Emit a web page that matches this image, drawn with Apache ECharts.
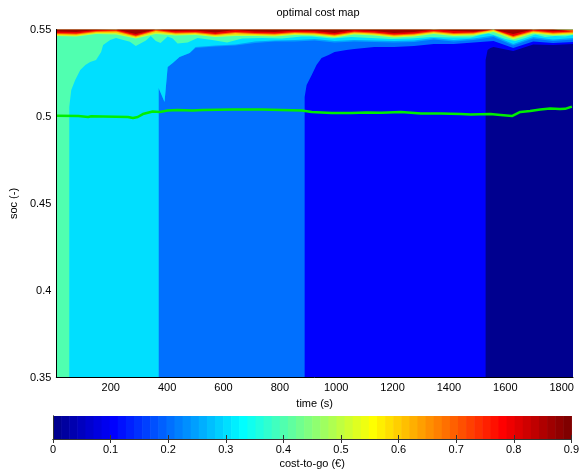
<!DOCTYPE html>
<html><head><meta charset="utf-8">
<script src="https://cdn.jsdelivr.net/npm/echarts@6/dist/echarts.min.js"></script>
<style>html,body{margin:0;padding:0;background:#fff}#c{width:582px;height:470px}</style>
</head><body><div id="c"></div>
<script>
// ---- data (time in s, soc in -) ----
const xTicks = [200,400,600,800,1000,1200,1400,1600,1800];
const cbTicks = [0,0.1,0.2,0.3,0.4,0.5,0.6,0.7,0.8,0.9];
// sample times for the upper (near soc=0.55) contour boundaries
const tTop = [7,78,148,219,289,360,430,501,571,642,712,782,853,923,994,1064,1135,1205,1276,1346,1417,1487,1558,1628,1699,1769,1840];
// contour boundaries: soc above which cost >= level
const b9 = [0.5489,0.5486,0.5497,0.5500,0.5474,0.5500,0.5491,0.5494,0.5483,0.5497,0.5489,0.5486,0.5494,0.5491,0.5480,0.5497,0.5491,0.5480,0.5486,0.5500,0.5491,0.5489,0.5500,0.5474,0.5500,0.5491,0.5497];
const b8 = [0.5480,0.5477,0.5491,0.5494,0.5466,0.5497,0.5483,0.5486,0.5474,0.5486,0.5480,0.5477,0.5486,0.5483,0.5471,0.5489,0.5483,0.5471,0.5477,0.5491,0.5480,0.5483,0.5500,0.5463,0.5494,0.5483,0.5489];
const b7 = [0.5474,0.5471,0.5486,0.5489,0.5460,0.5491,0.5477,0.5480,0.5468,0.5480,0.5474,0.5471,0.5480,0.5477,0.5466,0.5483,0.5477,0.5466,0.5471,0.5486,0.5474,0.5477,0.5497,0.5457,0.5489,0.5477,0.5483];
const b6 = [0.5468,0.5466,0.5480,0.5480,0.5454,0.5483,0.5471,0.5474,0.5463,0.5471,0.5468,0.5466,0.5474,0.5471,0.5460,0.5477,0.5471,0.5460,0.5466,0.5480,0.5468,0.5471,0.5491,0.5451,0.5483,0.5471,0.5477];
const b5 = [0.5463,0.5460,0.5474,0.5471,0.5448,0.5474,0.5466,0.5468,0.5457,0.5463,0.5463,0.5460,0.5468,0.5466,0.5454,0.5471,0.5466,0.5454,0.5460,0.5474,0.5463,0.5466,0.5486,0.5443,0.5477,0.5466,0.5471];
const b4 = [[7,0.35],[53,0.35],[53,0.5055],[60,0.5152],[74,0.5210],[92,0.5267],[110,0.5296],[127,0.5313],[148,0.5325],[166,0.5371],[173,0.5411],[198,0.5440],[219,0.5451],[268,0.5430],[289,0.5405],[325,0.5437],[342,0.5463],[360,0.5434],[377,0.5422],[402,0.5460],[420,0.5448],[437,0.5420],[473,0.5425],[508,0.5451],[560,0.5440],[613,0.5425],[666,0.5448],[737,0.5451],[807,0.5448],[878,0.5460],[913,0.5460],[984,0.5448],[1054,0.5457],[1124,0.5451],[1195,0.5445],[1265,0.5448],[1336,0.5457],[1406,0.5454],[1477,0.5454],[1512,0.5468],[1540,0.5477],[1565,0.5466],[1600,0.5445],[1635,0.5434],[1671,0.5451],[1706,0.5471],[1741,0.5457],[1776,0.5463],[1812,0.5460],[1840,0.5468]];
const b3Lower = [[7,0.35],[370,0.35],[370,0.5164],[377,0.5164],[391,0.5083],[402,0.5284],[420,0.5307],[444,0.5342],[480,0.5365]];
const b3Upper = [0.5399,0.5408,0.5414,0.5431,0.5437,0.5440,0.5445,0.5434,0.5440,0.5437,0.5434,0.5437,0.5451,0.5440,0.5448,0.5466,0.5417,0.5457,0.5443,0.5451];
const b25Upper = [0.5394,0.5402,0.5408,0.5422,0.5431,0.5431,0.5437,0.5425,0.5431,0.5428,0.5425,0.5428,0.5443,0.5431,0.5440,0.5457,0.5408,0.5448,0.5434,0.5443];
const b2Lower = [[7,0.35],[888,0.35],[888,0.5112],[895,0.5181],[913,0.5239],[930,0.5296],[948,0.5336],[973,0.5353],[994,0.5371],[1036,0.5382]];
const b2Upper = [0.5388,0.5399,0.5399,0.5405,0.5417,0.5417,0.5425,0.5434,0.5394,0.5431,0.5422,0.5428];
const b1Lower = [[7,0.35],[1530,0.35],[1530,0.5325],[1537,0.5382],[1547,0.5394]];
const b1Upper = [0.5399,0.5376,0.5414,0.5411,0.5417];
const b0 = [[7,0.35],[1840,0.35]];
// optimal soc trajectory
const trajT = [7,85,120,131,173,261,279,296,314,349,374,402,437,490,525,631,737,807,878,913,984,1054,1107,1160,1230,1301,1371,1442,1477,1547,1583,1625,1653,1688,1724,1759,1794,1812,1836];
const trajSoc = [0.5005,0.5003,0.4997,0.5001,0.5,0.4997,0.4991,0.4997,0.5014,0.5029,0.5026,0.5034,0.5037,0.5034,0.5037,0.504,0.504,0.5037,0.5034,0.5026,0.502,0.502,0.5023,0.5022,0.5026,0.5017,0.5017,0.5014,0.5011,0.5014,0.5009,0.5003,0.5026,0.5032,0.504,0.5046,0.5043,0.5044,0.5057];

// ---- build ----
function withTimes(vals, start) { return vals.map((v, i) => [tTop[i + start], v]); }
function jet64(k) { // MATLAB jet(64), k = 0..63
  const u = j => (j < 1 || j > 47) ? 0 : (j <= 16 ? j / 16 : (j <= 31 ? 1 : (48 - j) / 16));
  const R = k + 1;
  const r = u(R - 24), g = u(R - 8), b = u(R + 8);
  const h = x => Math.round(x * 255).toString(16).padStart(2, '0');
  return '#' + h(r) + h(g) + h(b);
}
const FONT = 'Liberation Sans';
const layers = [
  { d: b0, c: '#00008f' },
  { d: b1Lower.concat(withTimes(b1Upper, 22)), c: '#0000ff' },
  { d: b2Lower.concat(withTimes(b2Upper, 15)), c: '#0070ff' },
  { d: b3Lower.concat(withTimes(b25Upper, 7)), c: '#00a0ff' },
  { d: b3Lower.concat(withTimes(b3Upper, 7)), c: '#00dfff' },
  { d: b4, c: '#50ffb0' },
  { d: withTimes(b5, 0), c: '#bfff40' },
  { d: withTimes(b6, 0), c: '#ffcf00' },
  { d: withTimes(b7, 0), c: '#ff6000' },
  { d: withTimes(b8, 0), c: '#ef0000' },
  { d: withTimes(b9, 0), c: '#a00000' }
];
const series = layers.map(L => ({
  type: 'line', data: L.d, xAxisIndex: 0, yAxisIndex: 0, showSymbol: false, silent: true,
  lineStyle: { width: 0, opacity: 0 }, areaStyle: { color: L.c, opacity: 1, origin: 'end' }, z: 2
}));
series.push({
  type: 'line', data: trajT.map((t, i) => [t, trajSoc[i]]), xAxisIndex: 0, yAxisIndex: 0,
  showSymbol: false, silent: true, lineStyle: { color: '#00ee00', width: 2.5 }, z: 5
});
const nCb = 64, cbMax = cbTicks[cbTicks.length - 1];
series.push({
  type: 'custom', xAxisIndex: 1, yAxisIndex: 1, silent: true, z: 2,
  data: Array.from({ length: nCb }, (_, k) => [k]),
  renderItem: (params, api) => {
    const k = api.value(0);
    const p0 = api.coord([k * cbMax / nCb, 1]);
    const p1 = api.coord([(k + 1) * cbMax / nCb, 0]);
    return { type: 'rect', shape: { x: p0[0], y: p0[1], width: p1[0] - p0[0] + 0.6, height: p1[1] - p0[1] },
      style: { fill: jet64(k) } };
  }
});
const lab = { color: '#000', fontFamily: FONT, fontSize: 11 };
const chart = echarts.init(document.getElementById('c'), null, { renderer: 'canvas' });
chart.setOption({
  animation: false,
  backgroundColor: '#fff',
  title: { text: 'optimal cost map', left: 313, top: 2, textAlign: 'center',
    textStyle: { color: '#000', fontFamily: FONT, fontSize: 11, fontWeight: 'normal' } },
  grid: [
    { left: 53, top: 29.5, width: 520, height: 348 },
    { left: 53, top: 416, width: 520, height: 23 }
  ],
  xAxis: [
    { gridIndex: 0, type: 'value', min: 7, max: 1840, name: 'time (s)', nameLocation: 'middle', nameGap: 20,
      nameTextStyle: lab, axisLine: { lineStyle: { color: '#000' } }, axisTick: { show: false },
      axisLabel: Object.assign({ customValues: xTicks, margin: 5, formatter: v => String(v) }, lab), splitLine: { show: false }, z: 10 },
    { gridIndex: 1, type: 'value', min: 0, max: 0.9, interval: 0.1, name: 'cost-to-go (€)', nameLocation: 'middle', nameGap: 19,
      nameTextStyle: lab, axisLine: { lineStyle: { color: '#333' } },
      axisTick: { inside: true, length: 4, lineStyle: { color: '#333' } },
      axisLabel: Object.assign({ margin: 5 }, lab), splitLine: { show: false }, z: 10 },
    { gridIndex: 1, type: 'value', position: 'top', min: 0, max: 0.9, interval: 0.1,
      axisLine: { lineStyle: { color: '#333' } }, axisTick: { inside: true, length: 4, lineStyle: { color: '#333' } },
      axisLabel: { show: false }, splitLine: { show: false }, z: 10 }
  ],
  yAxis: [
    { gridIndex: 0, type: 'value', min: 0.35, max: 0.55, interval: 0.05, name: 'soc (-)', nameLocation: 'middle', nameGap: 27,
      nameTextStyle: lab, axisLine: { show: true, lineStyle: { color: '#000' } }, axisTick: { show: false },
      axisLabel: Object.assign({ margin: 5 }, lab), splitLine: { show: false }, z: 10 },
    { gridIndex: 1, type: 'value', min: 0, max: 1, axisLine: { show: true, lineStyle: { color: '#333' } },
      axisTick: { show: false }, axisLabel: { show: false }, splitLine: { show: false }, z: 10 },
    { gridIndex: 1, type: 'value', position: 'right', min: 0, max: 1, axisLine: { show: true, lineStyle: { color: '#333' } },
      axisTick: { show: false }, axisLabel: { show: false }, splitLine: { show: false }, z: 10 }
  ],
  series: series
});
</script></body></html>
